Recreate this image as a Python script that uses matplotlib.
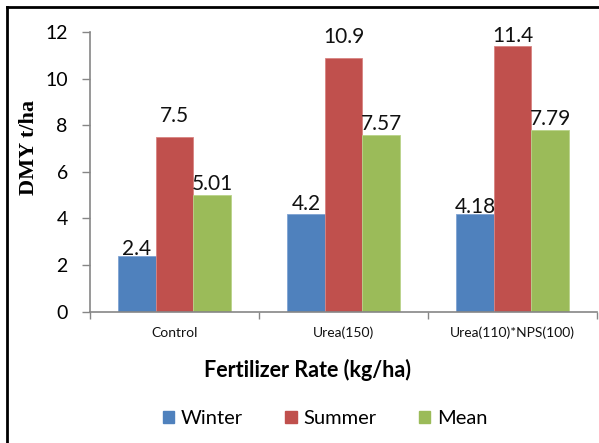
import matplotlib
matplotlib.use('Agg')
import matplotlib.pyplot as plt
from matplotlib.lines import Line2D
import numpy as np

categories = ['Control', 'Urea(150)', 'Urea(110)*NPS(100)']
winter = [2.4, 4.2, 4.18]
summer = [7.5, 10.9, 11.4]
mean = [5.01, 7.57, 7.79]
series_names = ['Winter', 'Summer', 'Mean']
label_text = [['2.4', '4.2', '4.18'], ['7.5', '10.9', '11.4'], ['5.01', '7.57', '7.79']]
# gap (points) between bar top and label, hand-placed in the original
label_gap = [[-2, 0, -2], [8, 8, 0], [1, 1, 1]]

colors = ['#4F81BD', '#C0504D', '#9BBB59']
edges = ['#7FA3D3', '#D88482', '#B9D38A']
font = ['Lato', 'DejaVu Sans']
plt.rcParams['font.family'] = font

fig = plt.figure(figsize=(5.99, 4.43), dpi=100)
ax = fig.add_axes([0.1503, 0.2964, 0.8464, 0.6314])

x = np.arange(len(categories))
w = 0.222
for i, vals in enumerate([winter, summer, mean]):
    pos = x + (i - 1) * w
    ax.bar(pos, vals, width=w, color=colors[i], edgecolor=edges[i], linewidth=0.6, label=series_names[i], zorder=2)
    for j, v in enumerate(vals):
        ax.annotate(label_text[i][j], xy=(pos[j], v), xytext=(0, label_gap[i][j]), textcoords='offset points',
                    ha='center', va='bottom', fontsize=15, color='#111111')

ax.set_xlim(-0.5, 2.5)
ax.set_ylim(0, 12)
ax.set_yticks(range(0, 13, 2))
ax.tick_params(axis='y', labelsize=14, length=6, color='#868686', width=1, pad=10)
ax.set_xticks([-0.5, 0.5, 1.5, 2.5])
ax.set_xticklabels([])
ax.tick_params(axis='x', length=5, color='#868686', width=1)
for j, c in enumerate(categories):
    ax.annotate(c, xy=(x[j], 0), xycoords=('data', 'axes fraction'), xytext=(0, -15), textcoords='offset points',
                ha='center', va='center', fontsize=10, color='#111111')
for s in ['top', 'right']:
    ax.spines[s].set_visible(False)
for s in ['left', 'bottom']:
    ax.spines[s].set_color('#868686')
    ax.spines[s].set_linewidth(1.2)

fig.text(0.049, 0.668, 'DMY t/ha', rotation=90, ha='center', va='center', fontsize=16,
         fontweight='bold', family='Liberation Serif')
fig.text(0.513, 0.165, 'Fertilizer Rate (kg/ha)', ha='center', va='center', fontsize=15.5, fontweight='bold')

handles = [plt.Rectangle((0, 0), 1, 1, color=c) for c in colors]
fig.legend(handles, series_names, loc='center', bbox_to_anchor=(0.543, 0.056), ncol=3, frameon=False,
           fontsize=14.5, handlelength=0.55, handleheight=0.55, handletextpad=0.35, columnspacing=2.1)

# outer chart border (left and top visible in the original)
fig.add_artist(Line2D([0.0125, 0.0125], [0, 0.984], transform=fig.transFigure, color='black', lw=2))
fig.add_artist(Line2D([0.0125, 1.0], [0.984, 0.984], transform=fig.transFigure, color='black', lw=2))

fig.savefig('out.png', dpi=100)
